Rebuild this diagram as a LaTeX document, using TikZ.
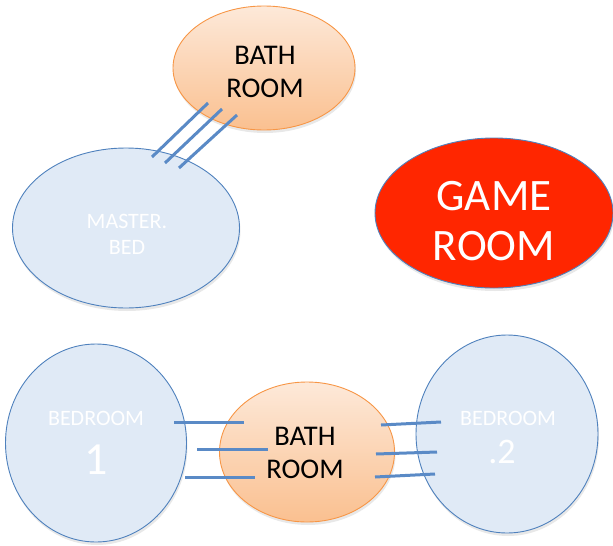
\documentclass[tikz,border=0pt]{standalone}
\usepackage{fontspec}
\setmainfont{Carlito}
\usetikzlibrary{shapes.geometric,shadows}
\definecolor{bathfillA}{HTML}{FDE9D9}
\definecolor{bathfillB}{HTML}{FAC090}
\definecolor{bathline}{HTML}{F79646}
\definecolor{bedfill}{HTML}{E0EAF6}
\definecolor{bedline}{HTML}{4F81BD}
\definecolor{gamered}{HTML}{FF2600}
\definecolor{doorline}{HTML}{5A8AC6}
\tikzset{
  room/.style={ellipse, inner sep=0pt, line width=0.9pt,
    drop shadow={opacity=0.18, shadow xshift=1pt, shadow yshift=-3pt}},
  bathroom/.style={room, draw=bathline, top color=bathfillA, bottom color=bathfillB},
  bedroom/.style={room, draw=bedline, fill=bedfill},
  gameroom/.style={room, draw=bedline, fill=gamered},
  darktext/.style={text=black, inner sep=0pt, align=center},
  lighttext/.style={text=white, inner sep=0pt, align=center},
  door/.style={draw=doorline, line width=3pt}
}
\begin{document}
\begin{tikzpicture}[x=1pt,y=-1pt]
\useasboundingbox (0,0) rectangle (613,546);
% rooms
\node[bathroom, minimum width=182pt, minimum height=124pt] (bathA) at (264,68) {};
\node[bedroom, minimum width=227pt, minimum height=160pt] (master) at (126,228) {};
\node[gameroom, minimum width=238pt, minimum height=150pt] (game) at (494,213) {};
\node[bedroom, minimum width=181pt, minimum height=198pt] (bedA) at (96,443) {};
\node[bedroom, minimum width=182pt, minimum height=198pt] (bedB) at (507,434) {};
\node[bathroom, minimum width=175pt, minimum height=140pt] (bathB) at (307,452) {};
% labels
\node[darktext, font=\fontsize{28.5}{33}\selectfont] (bathAt) at (265,72) {BATH\\ROOM};
\node[lighttext, font=\fontsize{22}{26}\selectfont] (mastert) at (127,234) {MASTER.\\BED};
\node[lighttext, font=\fontsize{45}{50}\selectfont] (gamet) at (494,221) {GAME\\ROOM};
\node[lighttext, font=\fontsize{22}{24}\selectfont] (bedAt) at (96,418) {BEDROOM};
\node[lighttext, font=\fontsize{46}{48}\selectfont] (bedAn) at (96,460) {1};
\node[lighttext, font=\fontsize{22}{24}\selectfont] (bedBt) at (508,418) {BEDROOM};
\node[lighttext, font=\fontsize{36}{38}\selectfont] (bedBn) at (502,452) {.2};
\node[darktext, font=\fontsize{28.5}{33}\selectfont] (bathBt) at (305,453) {BATH\\ROOM};
% door lines top
\coordinate (t1a) at (208,103); \coordinate (t1b) at (152,157);
\coordinate (t2a) at (222,109); \coordinate (t2b) at (165,163);
\coordinate (t3a) at (237,115); \coordinate (t3b) at (179,168);
\draw[door] (t1a) -- (t1b);
\draw[door] (t2a) -- (t2b);
\draw[door] (t3a) -- (t3b);
% door lines left
\coordinate (l1a) at (174,422); \coordinate (l1b) at (244,422);
\coordinate (l2a) at (197,449); \coordinate (l2b) at (268,449);
\coordinate (l3a) at (185,477); \coordinate (l3b) at (255,477);
\draw[door] (l1a) -- (l1b);
\draw[door] (l2a) -- (l2b);
\draw[door] (l3a) -- (l3b);
% door lines right
\coordinate (r1a) at (381,425); \coordinate (r1b) at (441,422);
\coordinate (r2a) at (376,454); \coordinate (r2b) at (437,452);
\coordinate (r3a) at (375,477); \coordinate (r3b) at (435,474);
\draw[door] (r1a) -- (r1b);
\draw[door] (r2a) -- (r2b);
\draw[door] (r3a) -- (r3b);
\end{tikzpicture}
\end{document}
